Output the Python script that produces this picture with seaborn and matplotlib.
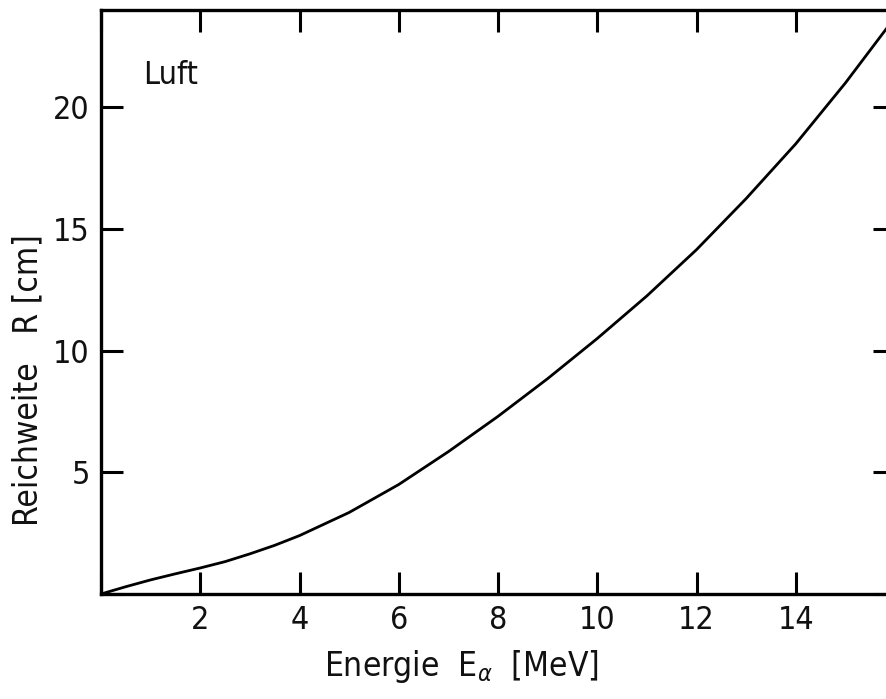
import matplotlib
matplotlib.use("Agg")
import matplotlib.pyplot as plt
import seaborn as sns
import pandas as pd

# Range of alpha particles in air versus kinetic energy
energy_mev = [0, 0.5, 1, 1.5, 2, 2.5, 3, 3.5, 4, 5, 6, 7, 8, 9, 10, 11, 12,
              13, 14, 15, 16]
range_cm = [0, 0.3, 0.58, 0.83, 1.07, 1.33, 1.65, 2.0, 2.4, 3.35, 4.5, 5.85,
            7.3, 8.85, 10.5, 12.25, 14.15, 16.25, 18.5, 21.0, 23.7]

x_ticks = [0, 2, 4, 6, 8, 10, 12, 14, 16]
x_tick_labels = ["", "2", "4", "6", "8", "10", "12", "14", ""]
y_ticks = [0, 5, 10, 15, 20]
y_tick_labels = ["", "5", "10", "15", "20"]

sns.set_style("ticks")
plt.rcParams["font.family"] = ["DejaVu Sans"]
plt.rcParams["font.stretch"] = "condensed"
plt.rcParams["mathtext.fontset"] = "dejavusans"

df = pd.DataFrame({"E": energy_mev, "R": range_cm})

W, H = 886, 699
fig = plt.figure(figsize=(W / 100, H / 100), dpi=100)
x0, x1 = 101, 895
y0, y1 = 594, 10
ax = fig.add_axes([x0 / W, (H - y0) / H, (x1 - x0) / W, (y0 - y1) / H])

sns.lineplot(data=df, x="E", y="R", ax=ax, color="black", linewidth=2.0)

ax.set_xlim(0, 16)
ax.set_ylim(0, 24)
ax.set_xticks(x_ticks)
ax.set_xticklabels(x_tick_labels)
ax.set_yticks(y_ticks)
ax.set_yticklabels(y_tick_labels)

for s in ax.spines.values():
    s.set_visible(True)
    s.set_linewidth(2.4)
    s.set_color("black")

ax.tick_params(axis="both", which="major", direction="in", length=16,
               width=2.2, color="black", labelsize=23, pad=8,
               top=True, right=True, labelcolor="#111111")

ax.set_xlabel(r"Energie  E$_{\alpha}$  [MeV]", fontsize=24, color="#111111")
ax.xaxis.set_label_coords((461 - x0) / (x1 - x0), -(648 - y0) / (y0 - y1))
ax.set_ylabel("Reichweite   R [cm]", fontsize=24, color="#111111")
ax.yaxis.set_label_coords(-(x0 - 44) / (x1 - x0), (y0 - 380) / (y0 - y1))

ax.text(0.85, 21.3, "Luft", fontsize=23, color="#111111", ha="left", va="center")

fig.savefig("out.png", dpi=100, facecolor="white")
